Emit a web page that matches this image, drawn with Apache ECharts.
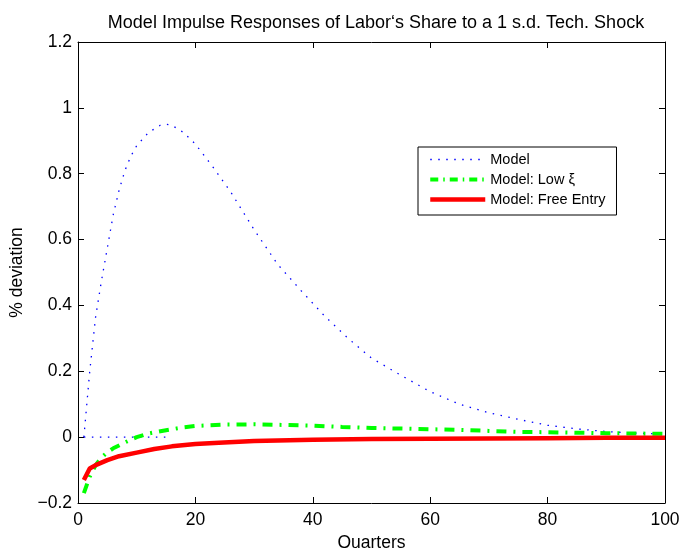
<!DOCTYPE html>
<html>
<head>
<meta charset="utf-8">
<script src="https://cdn.jsdelivr.net/npm/echarts@6/dist/echarts.min.js"></script>
<style>
html,body{margin:0;padding:0;background:#fff;}
#chart{width:680px;height:548px;}
</style>
</head>
<body>
<div id="chart"></div>
<script>
// Quarter / value pairs
var modelData = [[1,0.0],[2,0.2],[3,0.365],[4,0.475],[5,0.575],[6,0.675],[7,0.75],[8,0.81],[9,0.853],[10,0.885],[12,0.925],[14,0.947],[15,0.95],[16,0.947],[18,0.925],[20,0.89],[23,0.82],[26,0.745],[30,0.63],[34,0.525],[38,0.445],[42,0.368],[46,0.3],[50,0.24],[55,0.188],[60,0.138],[65,0.1],[70,0.074],[75,0.054],[80,0.036],[85,0.025],[90,0.017],[95,0.012],[100,0.01]];
var lowXiData = [[1,-0.17],[2,-0.12],[3,-0.085],[4,-0.062],[5,-0.046],[6,-0.034],[8,-0.016],[10,0.0],[12,0.011],[15,0.021],[18,0.03],[20,0.034],[25,0.038],[30,0.039],[35,0.037],[40,0.035],[45,0.031],[50,0.028],[55,0.026],[60,0.024],[65,0.022],[70,0.019],[75,0.016],[80,0.015],[90,0.012],[100,0.01]];
var freeEntryData = [[1,-0.13],[2,-0.095],[3,-0.085],[5,-0.07],[7,-0.058],[10,-0.047],[13,-0.036],[16,-0.028],[20,-0.021],[24,-0.017],[30,-0.012],[40,-0.008],[50,-0.006],[60,-0.005],[70,-0.004],[80,-0.003],[90,-0.002],[100,-0.002]];
var zeroLineData = [[1,0],[15,0]];
var seriesNames = ['Model', 'Model: Low \u03BE', 'Model: Free Entry'];
var xTicks = {min:0, max:100, interval:20};
var yTicks = {min:-0.2, max:1.2, interval:0.2};

var font = 'Liberation Sans, Arial, Helvetica, sans-serif';
var fs = 17.5;
var chart = echarts.init(document.getElementById('chart'), null, {renderer:'canvas'});
function axisCommon(){
  return {
    axisLine:{show:true,onZero:false,lineStyle:{color:'#000',width:1}},
    axisTick:{show:true,inside:true,length:6,lineStyle:{color:'#000'}},
    splitLine:{show:false}
  };
}
var yFmt = function(v){ var r = Math.round(v*10)/10; return String(r).replace('-', '\u2212'); };
var blueDot = {color:'#0000ff',width:1.3,type:[1.5,6.5]};
var greenDash = {color:'#00ff00',width:4,type:[10,7,2,7],cap:'butt'};
var redSolid = {color:'#ff0000',width:4.5};
var hidden = {opacity:0, borderWidth:0};
var option = {
  backgroundColor:'#fff',
  animation:false,
  title:{
    text:'Model Impulse Responses of Labor\u2018s Share to a 1 s.d. Tech. Shock',
    left:371, top:9, textAlign:'center',
    textStyle:{fontFamily:font,fontSize:18,fontWeight:'normal',color:'#000'}
  },
  grid:{left:78,right:15,top:42,bottom:45,containLabel:false,outerBoundsMode:'none'},
  legend:{
    orient:'vertical',
    left:418, top:147,
    itemStyle:hidden,
    data:[
      {name:seriesNames[0], itemStyle:hidden, lineStyle:{color:'#0000ff',width:1.3,type:[1.5,6.5],opacity:1}},
      {name:seriesNames[1], itemStyle:hidden, lineStyle:{color:'#00ff00',width:4,type:[8,5,1.5,5],opacity:1}},
      {name:seriesNames[2], itemStyle:hidden, lineStyle:{color:'#ff0000',width:4.5,opacity:1}}
    ],
    itemWidth:55, itemHeight:12, itemGap:5,
    padding:[5,11,8,10],
    borderColor:'#000', borderWidth:1, backgroundColor:'#fff', borderRadius:0,
    textStyle:{fontFamily:font,fontSize:14.5,color:'#000'}
  },
  xAxis:[
    Object.assign(axisCommon(),{type:'value',position:'bottom',min:xTicks.min,max:xTicks.max,interval:xTicks.interval,
      name:'Quarters',nameLocation:'middle',nameGap:28,
      nameTextStyle:{fontFamily:font,fontSize:fs,color:'#000'},
      axisLabel:{fontFamily:font,fontSize:fs,color:'#000',margin:8}}),
    Object.assign(axisCommon(),{type:'value',position:'top',min:xTicks.min,max:xTicks.max,interval:xTicks.interval,
      axisLabel:{show:false}})
  ],
  yAxis:[
    Object.assign(axisCommon(),{type:'value',position:'left',min:yTicks.min,max:yTicks.max,interval:yTicks.interval,
      name:'% deviation',nameLocation:'middle',nameGap:50,nameRotate:90,
      nameTextStyle:{fontFamily:font,fontSize:fs,color:'#000'},
      axisLabel:{fontFamily:font,fontSize:fs,color:'#000',margin:6,formatter:yFmt}}),
    Object.assign(axisCommon(),{type:'value',position:'right',min:yTicks.min,max:yTicks.max,interval:yTicks.interval,
      axisLabel:{show:false}})
  ],
  series:[
    {name:'zero',type:'line',data:zeroLineData,symbol:'none',silent:true,lineStyle:blueDot},
    {name:seriesNames[0],type:'line',data:modelData,symbol:'none',itemStyle:{color:'#0000ff'},lineStyle:blueDot},
    {name:seriesNames[1],type:'line',data:lowXiData,symbol:'none',itemStyle:{color:'#00ff00'},lineStyle:greenDash},
    {name:seriesNames[2],type:'line',data:freeEntryData,symbol:'none',itemStyle:{color:'#ff0000'},lineStyle:redSolid}
  ]
};
chart.setOption(option);
</script>
</body>
</html>
